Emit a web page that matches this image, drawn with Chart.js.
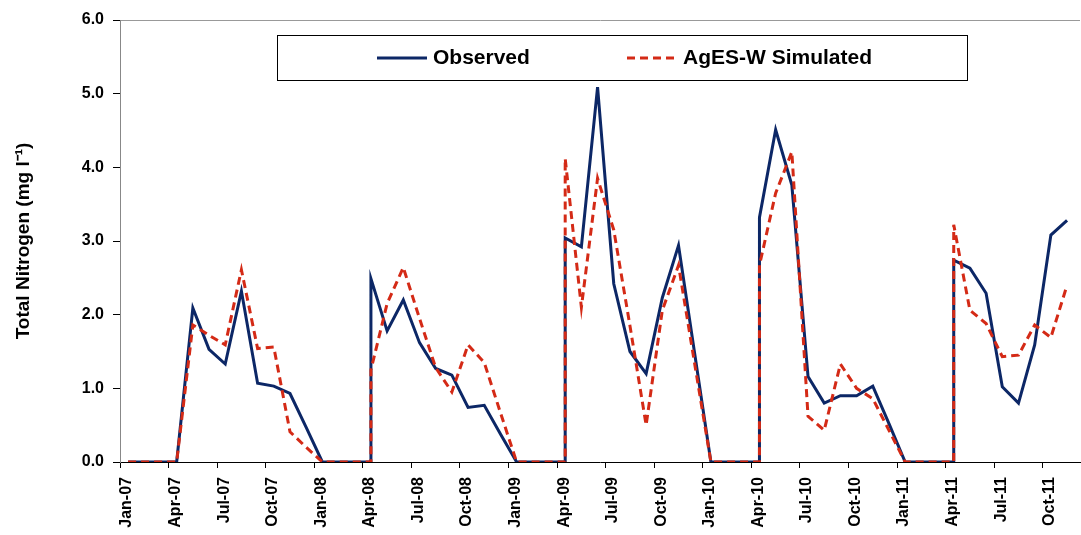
<!DOCTYPE html>
<html>
<head>
<meta charset="utf-8">
<script src="https://cdn.jsdelivr.net/npm/chart.js@4.4.0/dist/chart.umd.min.js"></script>
<style>
    html, body { margin: 0; padding: 0; background: #fff; }
    #wrap { width: 1081px; height: 535px; position: relative; }
</style>
</head>
<body>
<div id="wrap"><canvas id="tn"></canvas></div>
<script>
const FONT = "Arial, 'Liberation Sans', sans-serif";

// months since 1 Jan 2007, samples taken mid-month; a repeated month is the spring jump
const months = [
    0.5, 1.5, 2.5, 3.5, 4.5, 5.5, 6.5, 7.5, 8.5, 9.5, 10.5, 11.5,
    12.5, 13.5, 14.5, 15.5, 15.5, 16.5, 17.5, 18.5, 19.5, 20.5, 21.5, 22.5, 23.5,
    24.5, 25.5, 26.5, 27.5, 27.5, 28.5, 29.5, 30.5, 31.5, 32.5, 33.5, 34.5, 35.5,
    36.5, 37.5, 38.5, 39.5, 39.5, 40.5, 41.5, 42.5, 43.5, 44.5, 45.5, 46.5, 47.5,
    48.5, 49.5, 50.5, 51.5, 51.5, 52.5, 53.5, 54.5, 55.5, 56.5, 57.5, 58.5
];
const observed = [
    0, 0, 0, 0, 2.09, 1.53, 1.33, 2.32, 1.07, 1.03, 0.93, 0.47,
    0, 0, 0, 0, 2.49, 1.78, 2.20, 1.62, 1.27, 1.18, 0.74, 0.77, 0.38,
    0, 0, 0, 0, 3.04, 2.92, 5.09, 2.42, 1.50, 1.20, 2.23, 2.94, 1.47,
    0, 0, 0, 0, 3.32, 4.51, 3.76, 1.16, 0.80, 0.90, 0.90, 1.03, 0.52,
    0, 0, 0, 0, 2.74, 2.63, 2.29, 1.02, 0.80, 1.59, 3.08, 3.28
];
const simulated = [
    0, 0, 0, 0, 1.86, 1.72, 1.59, 2.61, 1.54, 1.56, 0.41, 0.20,
    0, 0, 0, 0, 1.25, 2.15, 2.64, 1.95, 1.28, 0.95, 1.59, 1.35, 0.67,
    0, 0, 0, 0, 4.12, 2.10, 3.85, 3.15, 1.85, 0.50, 2.06, 2.67, 1.33,
    0, 0, 0, 0, 2.67, 3.65, 4.21, 0.62, 0.43, 1.33, 1.00, 0.86, 0.43,
    0, 0, 0, 0, 3.22, 2.06, 1.88, 1.43, 1.45, 1.86, 1.69, 2.40
];
const tickMonths = [0, 3, 6, 9, 12, 15, 18, 21, 24, 27, 30, 33, 36, 39, 42, 45, 48, 51, 54, 57];
const tickLabels = [
    'Jan-07', 'Apr-07', 'Jul-07', 'Oct-07', 'Jan-08', 'Apr-08', 'Jul-08', 'Oct-08',
    'Jan-09', 'Apr-09', 'Jul-09', 'Oct-09', 'Jan-10', 'Apr-10', 'Jul-10', 'Oct-10',
    'Jan-11', 'Apr-11', 'Jul-11', 'Oct-11'
];

const NAVY = '#0c2766';
const RED = '#d42a16';

const toPoints = ys => ys.map((y, i) => ({x: months[i], y: y}));

// framed legend sitting inside the plot, like the Excel one
const boxLegend = {
    id: 'boxLegend',
    afterDraw(chart) {
        const ctx = chart.ctx;
        ctx.save();
        ctx.fillStyle = '#fff';
        ctx.fillRect(277.5, 35.5, 690, 45);
        ctx.strokeStyle = '#000';
        ctx.lineWidth = 1;
        ctx.strokeRect(277.5, 35.5, 690, 45);

        ctx.lineWidth = 3;
        ctx.strokeStyle = NAVY;
        ctx.beginPath();
        ctx.moveTo(377, 58);
        ctx.lineTo(427, 58);
        ctx.stroke();

        ctx.strokeStyle = RED;
        ctx.setLineDash([8, 5]);
        ctx.beginPath();
        ctx.moveTo(627, 58);
        ctx.lineTo(677, 58);
        ctx.stroke();
        ctx.setLineDash([]);

        ctx.fillStyle = '#000';
        ctx.font = 'bold 21px ' + FONT;
        ctx.textBaseline = 'middle';
        ctx.fillText('Observed', 433, 58);
        ctx.fillText('AgES-W Simulated', 683, 58);
        ctx.restore();
    }
};

new Chart(document.getElementById('tn'), {
    type: 'line',
    data: {
        datasets: [{
            label: 'Observed',
            data: toPoints(observed),
            borderColor: NAVY,
            borderWidth: 3,
            pointRadius: 0,
            tension: 0,
            order: 1
        }, {
            label: 'AgES-W Simulated',
            data: toPoints(simulated),
            borderColor: RED,
            borderWidth: 3,
            borderDash: [8, 5],
            pointRadius: 0,
            tension: 0,
            order: 0
        }]
    },
    options: {
        responsive: true,
        maintainAspectRatio: false,
        animation: false,
        devicePixelRatio: 1,
        layout: {padding: {top: 20, right: 1, left: 0, bottom: 0}},
        plugins: {
            legend: {display: false},
            tooltip: {enabled: false}
        },
        scales: {
            x: {
                type: 'linear',
                min: 0,
                max: 59.3,
                afterBuildTicks: s => { s.ticks = tickMonths.map(v => ({value: v})); },
                afterFit: s => { s.height = 73; },
                border: {color: '#000', width: 1},
                grid: {drawOnChartArea: false, tickLength: 6, tickColor: '#000'},
                ticks: {
                    autoSkip: false,
                    minRotation: 90,
                    maxRotation: 90,
                    padding: 9,
                    labelOffset: 7,
                    color: '#000',
                    font: {family: FONT, size: 16, weight: 'bold'},
                    callback: (v, i) => tickLabels[i]
                }
            },
            y: {
                min: 0,
                max: 6,
                afterFit: s => { s.width = 120; },
                border: {color: '#888', width: 1},
                grid: {
                    color: c => c.tick && c.tick.value === 6 ? '#999' : 'rgba(0,0,0,0)',
                    tickColor: '#000',
                    tickLength: 7
                },
                ticks: {
                    stepSize: 1,
                    padding: 9,
                    color: '#000',
                    font: {family: FONT, size: 16, weight: 'bold'},
                    callback: v => v.toFixed(1)
                },
                title: {
                    display: true,
                    text: 'Total Nitrogen (mg l\u207B\u00B9)',
                    color: '#000',
                    padding: {top: 12, bottom: 0},
                    font: {family: FONT, size: 19, weight: 'bold'}
                }
            }
        }
    },
    plugins: [boxLegend]
});
</script>
</body>
</html>
